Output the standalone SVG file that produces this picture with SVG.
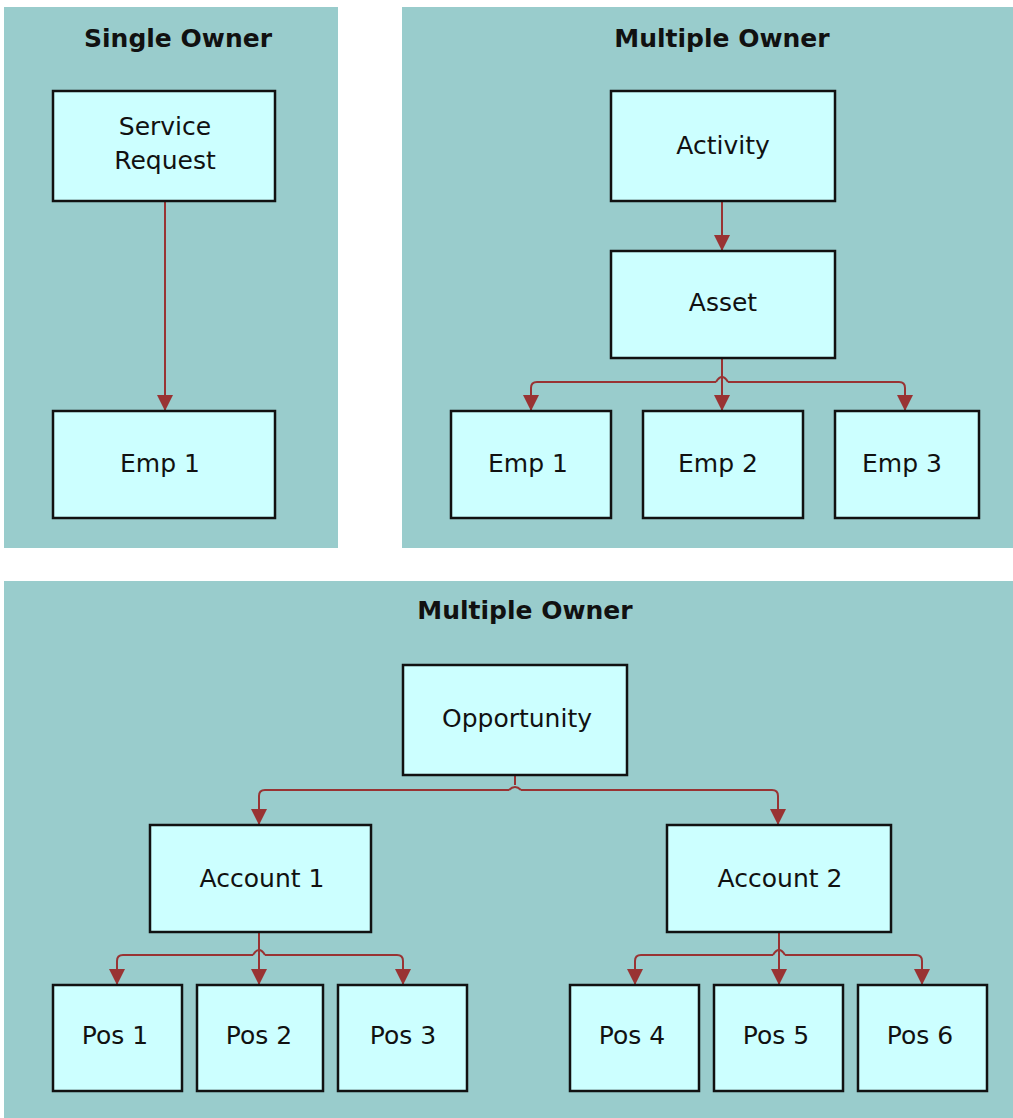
<svg xmlns="http://www.w3.org/2000/svg" width="1013" height="1118" viewBox="0 0 1013 1118">
<style>
.panel{fill:#99CCCC}
.node rect{fill:#CCFFFF;stroke:#111;stroke-width:2.5}
.node text{font-family:"DejaVu Sans",Verdana,sans-serif;font-size:25px;fill:#111;text-anchor:middle;dominant-baseline:central}
.title{font-family:"DejaVu Sans",Verdana,sans-serif;font-size:25px;font-weight:bold;fill:#111;text-anchor:middle}
.conn path{fill:none;stroke:#993333;stroke-width:2}
.conn path.arr{marker-end:url(#ah)}
</style>
<defs>
<marker id="ah" viewBox="0 0 10 10" refX="10" refY="5" markerWidth="16" markerHeight="16" markerUnits="userSpaceOnUse" orient="auto">
<path d="M0,0 L10,5 L0,10 z" fill="#993333"/>
</marker>
</defs>
<rect width="1013" height="1118" fill="#ffffff"/>
<g id="panel-single">
<rect class="panel" x="4" y="7" width="334" height="541"/>
<text class="title" x="178" y="47">Single Owner</text>
</g>
<g id="panel-multi1">
<rect class="panel" x="402" y="7" width="611" height="541"/>
<text class="title" x="722" y="47">Multiple Owner</text>
</g>
<g id="panel-multi2">
<rect class="panel" x="4" y="581" width="1009" height="537"/>
<text class="title" x="525" y="619">Multiple Owner</text>
</g>
<g class="conn" id="connectors">
<path class="arr" d="M165 201 V411"/>
<path class="arr" d="M722 201 V251"/>
<path class="arr" d="M722 358 V411"/>
<path class="arr" d="M716 382 H537 Q531 382 531 388 V411"/>
<path class="arr" d="M728 382 H899 Q905 382 905 388 V411"/>
<path d="M716 382 Q722 372 728 382"/>
<path d="M515 775 V785"/>
<path d="M509 790 Q515 784 521 790"/>
<path class="arr" d="M509 790 H265 Q259 790 259 796 V825"/>
<path class="arr" d="M521 790 H772 Q778 790 778 796 V825"/>
<path class="arr" d="M259 932 V985"/>
<path class="arr" d="M253 955 H123 Q117 955 117 961 V985"/>
<path class="arr" d="M265 955 H397 Q403 955 403 961 V985"/>
<path d="M253 955 Q259 945 265 955"/>
<path class="arr" d="M779 932 V985"/>
<path class="arr" d="M773 955 H641 Q635 955 635 961 V985"/>
<path class="arr" d="M785 955 H916 Q922 955 922 961 V985"/>
<path d="M773 955 Q779 945 785 955"/>
</g>
<g class="node" id="service-request"><rect x="53" y="91" width="222" height="110"/><text x="165" y="126">Service</text><text x="165" y="160">Request</text></g>
<g class="node" id="emp1-single"><rect x="53" y="411" width="222" height="107"/><text x="160" y="463">Emp 1</text></g>
<g class="node" id="activity"><rect x="611" y="91" width="224" height="110"/><text x="723" y="145">Activity</text></g>
<g class="node" id="asset"><rect x="611" y="251" width="224" height="107"/><text x="723" y="302">Asset</text></g>
<g class="node" id="emp1"><rect x="451" y="411" width="160" height="107"/><text x="528" y="463">Emp 1</text></g>
<g class="node" id="emp2"><rect x="643" y="411" width="160" height="107"/><text x="718" y="463">Emp 2</text></g>
<g class="node" id="emp3"><rect x="835" y="411" width="144" height="107"/><text x="902" y="463">Emp 3</text></g>
<g class="node" id="opportunity"><rect x="403" y="665" width="224" height="110"/><text x="517" y="718">Opportunity</text></g>
<g class="node" id="account1"><rect x="150" y="825" width="221" height="107"/><text x="262" y="878">Account 1</text></g>
<g class="node" id="account2"><rect x="667" y="825" width="224" height="107"/><text x="780" y="878">Account 2</text></g>
<g class="node" id="pos1"><rect x="53" y="985" width="129" height="106"/><text x="115" y="1035">Pos 1</text></g>
<g class="node" id="pos2"><rect x="197" y="985" width="126" height="106"/><text x="259" y="1035">Pos 2</text></g>
<g class="node" id="pos3"><rect x="338" y="985" width="129" height="106"/><text x="403" y="1035">Pos 3</text></g>
<g class="node" id="pos4"><rect x="570" y="985" width="129" height="106"/><text x="632" y="1035">Pos 4</text></g>
<g class="node" id="pos5"><rect x="714" y="985" width="129" height="106"/><text x="776" y="1035">Pos 5</text></g>
<g class="node" id="pos6"><rect x="858" y="985" width="129" height="106"/><text x="920" y="1035">Pos 6</text></g>
</svg>
